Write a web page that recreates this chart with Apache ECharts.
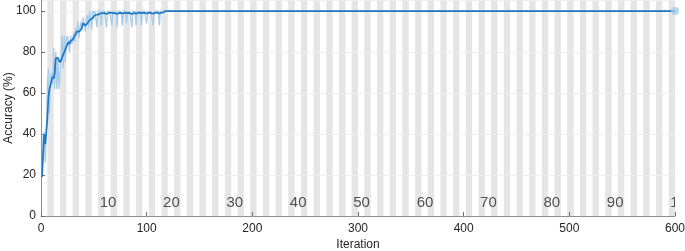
<!DOCTYPE html>
<html>
<head>
<meta charset="utf-8">
<script src="https://cdn.jsdelivr.net/npm/echarts@6/dist/echarts.min.js"></script>
<style>
html,body{margin:0;padding:0;background:#fff;}
#chart{width:685px;height:251px;}
</style>
</head>
<body>
<div id="chart"></div>
<script>
// ---- data ----
const itersPerEpoch = 6;
const numEpochs = 100;
const epochLabels = [10, 20, 30, 40, 50, 60, 70, 80, 90, 100];
const xTicks = [0, 100, 200, 300, 400, 500, 600];
const yTicks = [0, 20, 40, 60, 80, 100];
// training accuracy (raw) for iterations 1..118
const rawAcc = [
  19, 40, 41, 26, 41, 63, 72, 50, 68, 70,
  64, 82, 62, 80, 62, 78, 62, 70, 78, 88,
  72, 88, 75, 86, 88, 85, 80, 88, 84, 86,
  90, 85, 92, 88, 95, 87, 92, 95, 91, 97,
  93, 90, 97, 98, 92, 100, 97, 91, 100, 99,
  100, 100, 92, 100, 100, 100, 93, 100, 100, 100,
  100, 92, 100, 99, 100, 100, 93, 100, 100, 99,
  100, 92, 100, 100, 100, 99, 93, 100, 100, 100,
  94, 100, 99, 100, 100, 92, 100, 100, 100, 93,
  100, 100, 99, 100, 93, 100, 100, 100, 100, 94,
  100, 100, 99, 100, 100, 93, 100, 100, 100, 100,
  100, 93, 100, 100, 100, 100, 100, 100
];
// training accuracy (smoothed) for iterations 1..118
const smoothAcc = [
  19, 30, 40, 35, 41, 47, 58, 62, 64, 66,
  68, 67, 70, 77, 76.5, 77, 76, 75, 76, 77.5,
  78, 80, 79.5, 82.5, 83, 85, 84, 85.5, 85, 86,
  87, 88, 87.5, 90, 90.5, 90, 90.5, 91, 92.5, 94,
  93.5, 93, 93.8, 94, 95, 95.5, 96, 96.4, 96.5, 97.5,
  98, 98.3, 98.5, 98.2, 98.8, 98.8, 98.5, 99, 98.7, 99,
  99.2, 98.6, 99, 99.1, 99.2, 99.3, 98.7, 99, 99.1, 99,
  99.2, 98.6, 98.9, 99.1, 99.2, 99, 98.6, 98.9, 99.1, 99.2,
  98.7, 99, 99, 99.1, 99.2, 98.6, 98.9, 99.1, 99.2, 98.7,
  99, 99.1, 99, 99.2, 98.7, 99, 99.1, 99.2, 99.3, 98.8,
  99, 99.1, 99, 99.2, 99.3, 98.7, 99, 99.1, 99.2, 99.3,
  99.3, 98.8, 99.1, 99.2, 99.3, 99.4, 99.6, 100
];
const finalIter = 600;
const finalAcc = 100;

// ---- build series data ----
const rawData = rawAcc.map((v, i) => [i + 1, v]).concat([[finalIter, finalAcc]]);
const smoothData = smoothAcc.map((v, i) => [i + 1, v]).concat([[finalIter, finalAcc]]);
const bands = [];
for (let e = 2; e <= numEpochs; e += 2) {
  bands.push([(e - 1) * itersPerEpoch, e * itersPerEpoch]);
}
const labelData = epochLabels.map(e => [e * itersPerEpoch - 4.5, 6.3, e]);

const Y_MAX = 105.4;
const FONT = '"Liberation Sans", Arial, Helvetica, sans-serif';

const chart = echarts.init(document.getElementById('chart'), null, {renderer: 'canvas'});
chart.setOption({
  animation: false,
  backgroundColor: '#fff',
  grid: {left: 41, right: 10, top: 0, bottom: 35, containLabel: false, outerBoundsMode: 'none'},
  xAxis: {
    type: 'value', min: 0, max: 600, interval: 100,
    name: 'Iteration', nameLocation: 'middle', nameGap: 23, nameMoveOverlap: false,
    nameTextStyle: {color: '#262626', fontSize: 12, fontFamily: FONT},
    axisLine: {show: true, lineStyle: {color: '#8f8f8f', width: 1}},
    axisTick: {show: true, inside: true, length: 4, lineStyle: {color: '#6f6f6f'}},
    axisLabel: {color: '#262626', fontSize: 12, fontFamily: FONT, margin: 7,
      formatter: v => xTicks.indexOf(v) >= 0 ? String(v) : ''},
    splitLine: {show: false},
    z: 3
  },
  yAxis: {
    type: 'value', min: 0, max: Y_MAX, interval: 20,
    name: 'Accuracy (%)', nameLocation: 'middle', nameGap: 26, nameMoveOverlap: false,
    nameTextStyle: {color: '#262626', fontSize: 12, fontFamily: FONT},
    axisLine: {show: true, lineStyle: {color: '#8f8f8f', width: 1}},
    axisTick: {show: true, inside: true, length: 4, lineStyle: {color: '#6f6f6f'}},
    axisLabel: {color: '#262626', fontSize: 12, fontFamily: FONT, margin: 5, showMaxLabel: false,
      formatter: v => yTicks.indexOf(v) >= 0 ? String(v) : ''},
    splitLine: {show: true, lineStyle: {color: '#eeeeee', width: 1}},
    z: 3
  },
  series: [
    {
      type: 'custom', name: 'epochs', z: 1, silent: true, clip: true,
      data: bands,
      encode: {x: [0, 1]},
      renderItem: (params, api) => {
        const p0 = api.coord([api.value(0), Y_MAX]);
        const p1 = api.coord([api.value(1), 0]);
        return {type: 'rect', shape: {x: p0[0], y: p0[1], width: p1[0] - p0[0], height: p1[1] - p0[1]},
          style: {fill: '#e5e5e5'}};
      }
    },
    {
      type: 'custom', name: 'epochLabels', z: 2, silent: true, clip: true,
      data: labelData,
      encode: {x: 0, y: 1},
      renderItem: (params, api) => {
        const p = api.coord([api.value(0), api.value(1)]);
        return {type: 'text', x: p[0], y: p[1],
          style: {text: String(api.value(2)), fill: '#505050', fontSize: 15, fontFamily: FONT,
            align: 'left', verticalAlign: 'middle'}};
      }
    },
    {
      type: 'line', name: 'raw', data: rawData, z: 4, showSymbol: false, symbol: 'none',
      lineStyle: {color: '#a8cbe8', width: 1.3}
    },
    {
      type: 'line', name: 'smoothed', data: smoothData, z: 5, showSymbol: false, symbol: 'none',
      lineStyle: {color: '#1f77c3', width: 1.7}
    },
    {
      type: 'scatter', name: 'final', data: [[finalIter, finalAcc]], z: 6,
      symbolSize: 8, itemStyle: {color: '#a6cbe8'}, clip: false
    }
  ]
});
</script>
</body>
</html>
